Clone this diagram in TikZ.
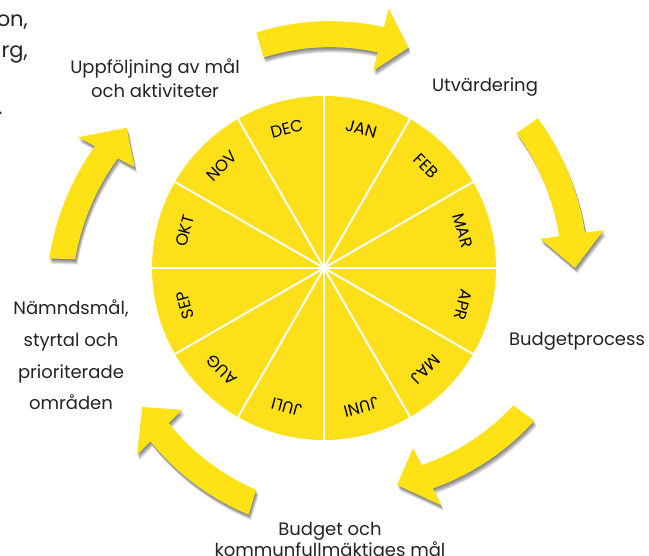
\documentclass[tikz,border=0pt]{standalone}
\usepackage{fontspec}
\setmainfont{Poppins}
\definecolor{wheelY}{RGB}{254,224,26}
\definecolor{arrowY}{RGB}{255,226,22}
\definecolor{txt}{RGB}{35,35,35}
% a0 (tail angle), ab (head base angle), at (tip angle), R0 (tail radius), R1 (tip radius)
\newcommand\arrowshape[5]{%
  plot[domain=#1:#2,samples=40] (\x:{#4+(#5-#4)*(\x-(#1))/((#3)-(#1))+13})
  -- (#2:{#4+(#5-#4)*((#2)-(#1))/((#3)-(#1))+32})
  -- (#3:#5)
  -- (#2:{#4+(#5-#4)*((#2)-(#1))/((#3)-(#1))-32})
  -- plot[domain=#2:#1,samples=40] (\x:{#4+(#5-#4)*(\x-(#1))/((#3)-(#1))-13})
  -- cycle}
\newcommand\yarrow[5]{%
  \foreach \s in {1,...,6}{\fill[black,opacity=0.1,shift={(0.4*\s,-0.9*\s)}] \arrowshape{#1}{#2}{#3}{#4}{#5};}
  \fill[arrowY] \arrowshape{#1}{#2}{#3}{#4}{#5};}
\begin{document}
\begin{tikzpicture}[x=1pt,y=1pt,
  month/.style={font=\fontsize{16.5}{16.5}\selectfont, text=black, inner sep=0pt},
  lab/.style={font=\fontsize{18}{24}\selectfont, text=txt, align=center, inner sep=0pt},
  frag/.style={font=\fontsize{21}{21}\selectfont, text=txt, inner sep=0pt}]
\useasboundingbox (0,0) rectangle (649,556);
\coordinate (C) at (324,288);
% arrows
\begin{scope}[shift={(C)}]
  \yarrow{106}{76}{69}{232}{236}
  \yarrow{35}{7.7}{0}{248}{251}
  \yarrow{-36}{-63.7}{-71.4}{247}{229}
  \yarrow{-107}{-135}{-142.6}{245}{229}
  \yarrow{178}{152}{144.6}{262}{242}
\end{scope}
% wheel
\node[circle, fill=wheelY, minimum size=344pt, inner sep=0pt] (wheel) at (C) {};
\foreach \a in {0,30,...,330}
  \draw[white, line width=2pt] (wheel.center) -- (wheel.\a);
\foreach \m/\a in {JAN/75, FEB/45, MAR/15, APR/-15, MAJ/-45, JUNI/-75, JULI/-105, AUG/-135, SEP/-165, OKT/165, NOV/135, DEC/105}
  \node[month, rotate=\a-90] (m\m) at ([shift={(\a:144)}]C) {\m};
% labels
\node[lab] (upp) at (155,478) {Uppföljning av mål\\och aktiviteter};
\node[lab] (utv) at (485,469) {Utvärdering};
\node[lab] (bpr) at (577,215) {Budgetprocess};
\node[lab, font=\fontsize{18}{21.5}\selectfont] (bud) at (330,14) {Budget och\\kommunfullmäktiges mål};
\node[lab, font=\fontsize{18}{31.7}\selectfont] (nmd) at (71,201) {Nämndsmål,\\styrtal och\\prioriterade\\områden};
% cut-off text fragments at the left edge
\node[frag, anchor=base east] (f1) at (28,529) {on,};
\node[frag, anchor=base east] (f2) at (28,498) {rg,};
\node[frag, anchor=base west] (f3) at (-2,441) {.};
\end{tikzpicture}
\end{document}
